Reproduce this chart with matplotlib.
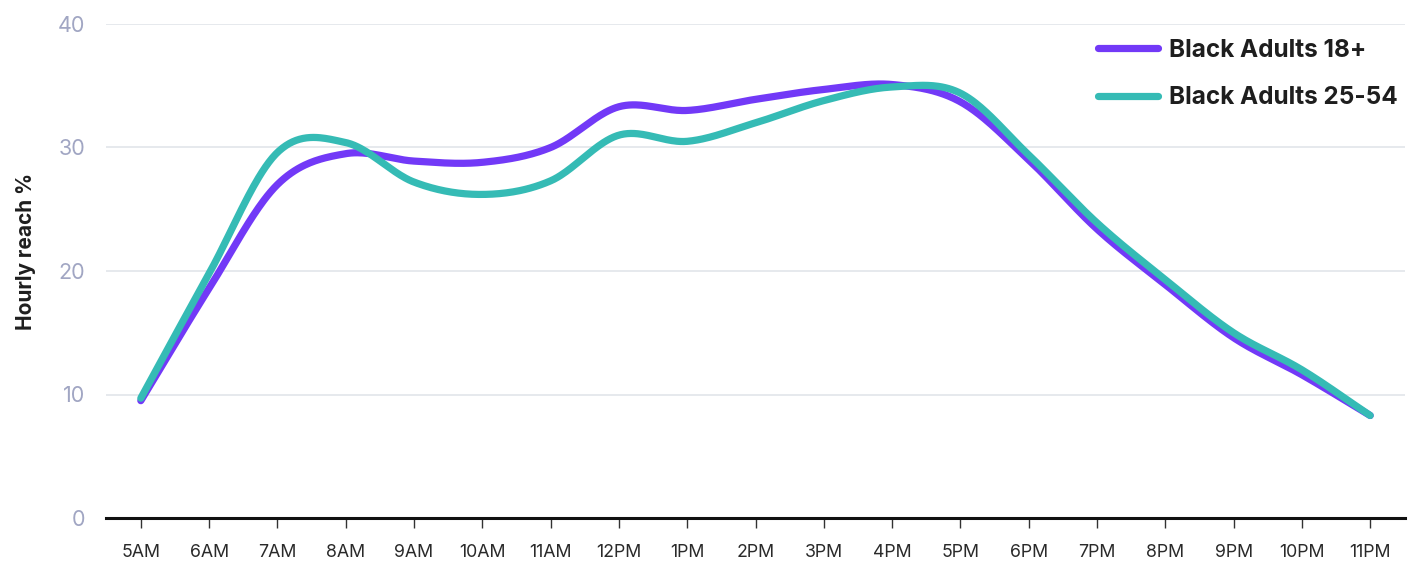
import numpy as np
import matplotlib
matplotlib.use("Agg")
import matplotlib.pyplot as plt
from matplotlib.lines import Line2D

plt.rcParams['font.family'] = ['Inter', 'DejaVu Sans']

hours = ["5AM", "6AM", "7AM", "8AM", "9AM", "10AM", "11AM", "12PM", "1PM", "2PM",
         "3PM", "4PM", "5PM", "6PM", "7PM", "8PM", "9PM", "10PM", "11PM"]
adults_18 = [9.5, 18.6, 27.0, 29.5, 28.9, 28.8, 30.0, 33.3, 33.0, 33.9,
             34.7, 35.1, 33.7, 29.0, 23.4, 18.9, 14.6, 11.6, 8.3]
adults_25_54 = [9.7, 19.8, 29.6, 30.4, 27.2, 26.2, 27.3, 31.0, 30.5, 32.0,
                33.8, 34.9, 34.4, 29.4, 23.9, 19.3, 15.0, 12.0, 8.3]
series_names = ["Black Adults 18+", "Black Adults 25-54"]
series_colors = ["#7239F7", "#35BBB5"]


def catmull_rom(x, y, samples=40):
    """Uniform Catmull-Rom spline through every (x, y) point."""
    x = np.asarray(x, float)
    y = np.asarray(y, float)
    px = np.concatenate([[2 * x[0] - x[1]], x, [2 * x[-1] - x[-2]]])
    py = np.concatenate([[2 * y[0] - y[1]], y, [2 * y[-1] - y[-2]]])
    t = np.linspace(0, 1, samples, endpoint=False)
    out_x, out_y = [], []
    for i in range(1, len(px) - 2):
        for arr, out in ((px, out_x), (py, out_y)):
            p0, p1, p2, p3 = arr[i - 1], arr[i], arr[i + 1], arr[i + 2]
            out.append(0.5 * ((2 * p1) + (-p0 + p2) * t
                              + (2 * p0 - 5 * p1 + 4 * p2 - p3) * t ** 2
                              + (-p0 + 3 * p1 - 3 * p2 + p3) * t ** 3))
    out_x.append([x[-1]])
    out_y.append([y[-1]])
    return np.concatenate(out_x), np.concatenate(out_y)


W, H = 1411, 567
fig = plt.figure(figsize=(W / 100, H / 100), dpi=100)
ax = fig.add_axes([106 / W, 1 - 518 / H, (1405 - 106) / W, (518 - 24) / H])

xpos = np.arange(len(hours))
for values, color in zip([adults_18, adults_25_54], series_colors):
    sx, sy = catmull_rom(xpos, values)
    ax.plot(sx, sy, color=color, lw=5.2, solid_capstyle='round',
            solid_joinstyle='round', zorder=3)

ax.set_xlim(-0.51, len(hours) - 1 + 0.51)
ax.set_ylim(0, 40)
ax.set_yticks([0, 10, 20, 30, 40])
ax.set_xticks(xpos)
ax.set_xticklabels(hours)

ax.grid(axis='y', color='#E4E7EC', lw=1.3, zorder=0)
ax.grid(axis='x', visible=False)
for side in ('top', 'right', 'left'):
    ax.spines[side].set_visible(False)
ax.spines['bottom'].set_color('#111111')
ax.spines['bottom'].set_linewidth(2.2)
ax.spines['bottom'].set_zorder(4)

ax.tick_params(axis='y', length=0, pad=15, labelsize=15.5, labelcolor='#A1A6C3')
ax.tick_params(axis='x', length=7, width=1, color='#333333', direction='out',
               pad=12, labelsize=12.8, labelcolor='#2A2A2A')

ax.set_ylabel("Hourly reach %", fontsize=15, fontweight='bold', color='#1E1E1E')
ax.yaxis.set_label_coords(-70 / (1405 - 106), (518 - 251) / (518 - 24))

handles = [Line2D([0], [0], color=c, lw=5.2, solid_capstyle='round') for c in series_colors]
leg = fig.legend(handles, series_names, loc='upper right',
                 bbox_to_anchor=(1398 / W, 1 - 39 / H), bbox_transform=fig.transFigure,
                 frameon=False, borderpad=0, borderaxespad=0,
                 handlelength=2.5, handletextpad=0.45, labelspacing=1.0,
                 prop={'weight': 'bold', 'size': 17.5})
for txt in leg.get_texts():
    txt.set_color('#1E1E1E')

fig.savefig("out.png", dpi=100, facecolor='white')
